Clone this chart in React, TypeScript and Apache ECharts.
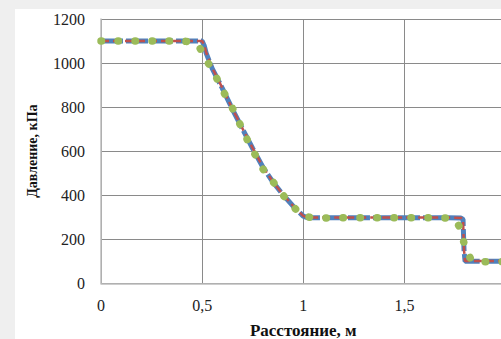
import React, { useEffect, useRef } from "react";
import * as echarts from "echarts";

const xTicks = [0, 0.5, 1, 1.5, 2];
const yTicks = [0, 200, 400, 600, 800, 1000, 1200];

const blueX = [0, 0.5, 0.51, 0.52, 0.55, 0.6, 0.65, 0.7, 0.75, 0.8, 0.85, 0.9, 0.95, 1.0, 1.02, 1.1, 1.3, 1.5, 1.7, 1.78, 1.79, 1.795, 1.8, 1.85, 2.0];
const blueP = [1100, 1100, 1080, 1045, 975, 885, 790, 700, 612, 528, 460, 402, 350, 305, 298, 298, 298, 298, 298, 296, 290, 150, 100, 100, 100];

const redX = [0, 0.5, 0.51, 0.52, 0.55, 0.6, 0.65, 0.7, 0.75, 0.8, 0.85, 0.9, 0.95, 1.0, 1.02, 1.1, 1.3, 1.5, 1.7, 1.78, 1.79, 1.795, 1.8, 1.85, 2.0];
const redP = [1100, 1100, 1082, 1048, 978, 887, 792, 702, 614, 530, 461, 403, 351, 306, 299, 299, 299, 299, 299, 297, 291, 150, 101, 101, 101];

const greenX = [0, 0.2, 0.4, 0.45, 0.48, 0.5, 0.53, 0.57, 0.6, 0.64, 0.67, 0.7, 0.73, 0.8, 0.85, 0.89, 0.94, 0.99, 1.05, 1.2, 1.4, 1.6, 1.72, 1.75, 1.77, 1.78, 1.8, 1.83, 1.87, 1.95, 2.0];
const greenP = [1100, 1100, 1100, 1096, 1080, 1052, 1000, 935, 878, 815, 755, 698, 638, 520, 462, 410, 360, 308, 296, 298, 298, 298, 296, 288, 260, 232, 166, 106, 98, 98, 98];

const toPairs = (xs: number[], ys: number[]) => xs.map((x, i) => [x, ys[i]]);

export default function App() {
  const ref = useRef<HTMLDivElement>(null);
  useEffect(() => {
    if (!ref.current) return;
    const chart = echarts.init(ref.current, undefined, { renderer: "svg" });
    const serif = "'Liberation Serif', 'DejaVu Serif', serif";
    chart.setOption({
      animation: false,
      backgroundColor: "#ffffff",
      grid: { left: 86, top: 10, width: 404.5, height: 264.3, containLabel: false, outerBoundsMode: "none" },
      xAxis: {
        type: "value",
        min: xTicks[0],
        max: xTicks[xTicks.length - 1],
        interval: 0.5,
        name: "Расстояние, м",
        nameLocation: "middle",
        nameGap: 39,
        nameTextStyle: { fontFamily: serif, fontSize: 17, fontWeight: "bold", color: "#111" },
        axisLine: { show: true, lineStyle: { color: "#bdbdbd", width: 1.5 } },
        axisTick: { show: false },
        axisLabel: {
          fontFamily: serif,
          fontSize: 16,
          color: "#222",
          margin: 14,
          formatter: (v: number) => String(v).replace(".", ","),
        },
        splitLine: { show: true, lineStyle: { color: "#8a8a8a", width: 1 } },
      },
      yAxis: {
        type: "value",
        min: yTicks[0],
        max: yTicks[yTicks.length - 1],
        interval: 200,
        name: "Давление, кПа",
        nameLocation: "middle",
        nameGap: 62,
        nameTextStyle: { fontFamily: serif, fontSize: 14, fontWeight: "bold", color: "#111" },
        axisLine: { show: true, lineStyle: { color: "#bdbdbd", width: 1.5 } },
        axisTick: { show: false },
        axisLabel: { fontFamily: serif, fontSize: 16, color: "#222", margin: 16, formatter: (v: number) => String(v) },
        splitLine: { show: true, lineStyle: { color: "#8a8a8a", width: 1 } },
      },
      series: [
        {
          type: "line",
          data: toPairs(blueX, blueP),
          showSymbol: false,
          lineStyle: { color: "#4f81bd", width: 5, type: [22, 3] },
          z: 1,
        },
        {
          type: "line",
          data: toPairs(redX, redP),
          showSymbol: false,
          lineStyle: { color: "#c0504d", width: 2.5, type: [8, 4] },
          z: 2,
        },
        {
          type: "line",
          data: toPairs(greenX, greenP),
          showSymbol: false,
          lineStyle: { color: "#9bbb59", width: 7.5, type: [0.5, 16.5], cap: "round" },
          z: 3,
        },
      ],
    });
    return () => chart.dispose();
  }, []);
  return (
    <div style={{ position: "fixed", left: 0, top: 0, width: 501, height: 339, background: "#efefef", overflow: "hidden" }}>
      <div
        ref={ref}
        style={{ position: "absolute", left: 15, top: 9, width: 520, height: 330, background: "#fff" }}
      />
    </div>
  );
}
